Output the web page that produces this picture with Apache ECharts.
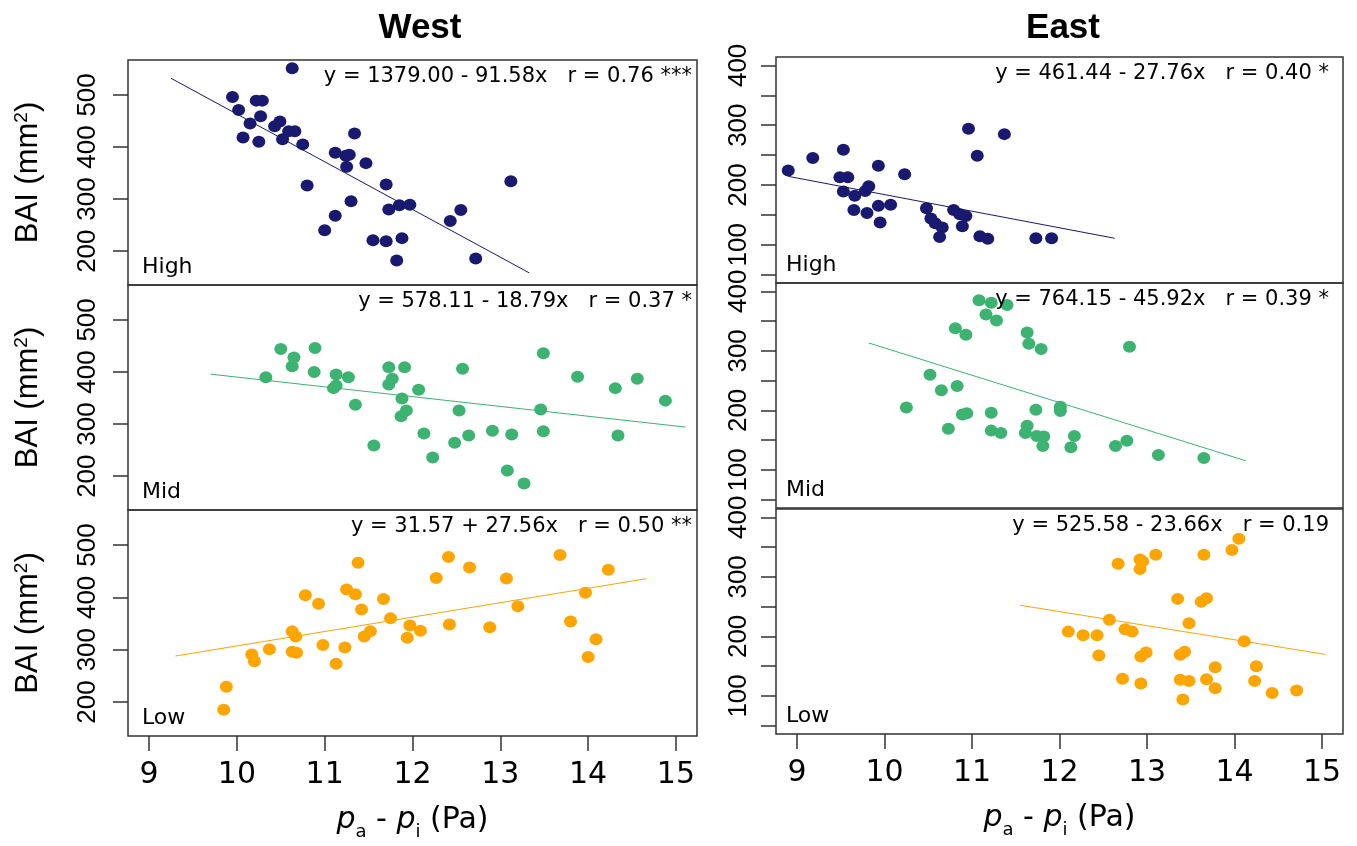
<!DOCTYPE html>
<html>
<head>
<meta charset="utf-8">
<title>BAI vs pa - pi</title>
<script src="https://cdn.jsdelivr.net/npm/echarts@6/dist/echarts.min.js"></script>
<style>
  html, body { margin: 0; padding: 0; background: #fff; }
  #chart { width: 1357px; height: 846px; }
</style>
</head>
<body>
<div id="chart"></div>
<script>
// points: [pa - pi, BAI]
var westHigh = [
  [10.63, 551], [9.95, 496], [10.02, 471], [10.22, 489], [10.29, 489], [10.27, 459], [10.15, 445],
  [10.07, 418], [10.25, 410], [10.43, 440], [10.49, 449], [10.52, 415], [10.59, 430], [10.66, 430],
  [10.75, 405], [11.34, 426], [11.12, 389], [11.24, 383], [11.28, 385], [11.25, 362], [11.47, 369],
  [10.80, 326], [11.30, 296], [11.12, 268], [11.00, 240], [11.70, 328], [11.73, 280], [11.85, 288],
  [11.97, 289], [11.55, 221], [11.70, 219], [11.88, 225], [11.82, 182], [12.43, 258], [12.55, 279],
  [12.72, 186], [13.12, 334]
];
var westMid = [
  [10.33, 390], [10.50, 444], [10.65, 428], [10.63, 411], [10.89, 446], [10.88, 400], [11.13, 395],
  [11.27, 390], [11.10, 369], [11.13, 374], [11.35, 337], [11.73, 409], [11.91, 409], [11.77, 387],
  [11.73, 376], [12.07, 366], [11.88, 349], [11.93, 326], [11.87, 315], [11.56, 259], [12.57, 406],
  [12.53, 326], [12.13, 282], [12.23, 236], [12.48, 264], [12.64, 278], [12.91, 287], [13.13, 280],
  [13.08, 211], [13.27, 186], [13.49, 436], [13.46, 328], [13.49, 286], [13.88, 391], [14.31, 369],
  [14.34, 278], [14.56, 387], [14.88, 345]
];
var westLow = [
  [9.85, 185], [9.88, 229], [10.17, 291], [10.20, 278], [10.37, 301], [10.63, 335], [10.67, 325],
  [10.63, 296], [10.68, 294], [10.78, 404], [10.93, 388], [10.98, 309], [11.13, 273], [11.23, 304],
  [11.38, 466], [11.25, 415], [11.35, 406], [11.42, 377], [11.52, 335], [11.45, 325], [11.67, 397],
  [11.75, 360], [11.97, 346], [11.94, 323], [12.09, 336], [12.27, 437], [12.41, 477], [12.42, 348],
  [12.65, 457], [12.88, 343], [13.07, 436], [13.20, 383], [13.68, 481], [13.80, 354], [13.97, 409],
  [14.09, 320], [14.00, 286], [14.23, 453]
];
var eastHigh = [
  [8.90, 224], [9.18, 245], [9.53, 259], [9.49, 213], [9.58, 213], [9.53, 189], [9.66, 182],
  [9.65, 158], [9.78, 190], [9.82, 198], [9.93, 232], [9.93, 165], [9.80, 153], [9.95, 137],
  [10.07, 167], [10.23, 218], [10.48, 161], [10.53, 144], [10.58, 136], [10.66, 129], [10.63, 113],
  [10.79, 158], [10.86, 151], [10.93, 148], [10.89, 131], [10.96, 294], [11.06, 249], [11.09, 114],
  [11.18, 110], [11.37, 285], [11.73, 111], [11.91, 111]
];
var eastMid = [
  [11.08, 385], [11.22, 381], [11.40, 377], [11.16, 361], [11.28, 351], [10.81, 338], [10.93, 327],
  [11.63, 331], [11.65, 312], [11.79, 303], [12.80, 307], [10.52, 260], [10.65, 234], [10.83, 241],
  [10.25, 205], [10.89, 193], [10.94, 195], [11.22, 196], [10.73, 169], [11.22, 166], [11.33, 162],
  [11.73, 201], [12.01, 206], [12.01, 199], [11.63, 174], [11.61, 162], [11.74, 157], [11.82, 156],
  [11.81, 140], [12.17, 157], [12.13, 138], [12.64, 140], [12.77, 149], [13.13, 125], [13.65, 120]
];
var eastLow = [
  [12.10, 208], [12.27, 202], [12.43, 202], [12.45, 168], [12.57, 228], [12.67, 322], [12.75, 212],
  [12.83, 208], [12.72, 129], [12.92, 329], [12.92, 313], [12.95, 326], [13.10, 337], [12.93, 166],
  [12.99, 173], [12.93, 121], [13.35, 263], [13.38, 169], [13.43, 174], [13.48, 222], [13.38, 127],
  [13.48, 125], [13.41, 94], [13.62, 258], [13.68, 264], [13.65, 337], [13.78, 148], [13.68, 128],
  [13.78, 113], [13.97, 345], [14.05, 364], [14.11, 192], [14.25, 150], [14.23, 125], [14.43, 105],
  [14.71, 109]
];

// regression lines and their labels, same order as the panels
var intercepts = [1379.00, 578.11, 31.57, 461.44, 764.15, 525.58];
var slopes = [-91.58, -18.79, 27.56, -27.76, -45.92, -23.66];
var lineFrom = [9.25, 9.70, 9.30, 8.90, 9.82, 11.55];
var lineTo = [13.33, 15.11, 14.66, 12.63, 14.13, 15.04];
var eqLabels = [
  'y = 1379.00 - 91.58x   r = 0.76 ***',
  'y = 578.11 - 18.79x   r = 0.37 *',
  'y = 31.57 + 27.56x   r = 0.50 **',
  'y = 461.44 - 27.76x   r = 0.40 *',
  'y = 764.15 - 45.92x   r = 0.39 *',
  'y = 525.58 - 23.66x   r = 0.19'
];

var regions = ['West', 'East'];
var levels = ['High', 'Mid', 'Low'];
var xTicks = [9, 10, 11, 12, 13, 14, 15];
var westYTicks = [200, 300, 400, 500];
var eastYTicks = [50, 100, 150, 200, 250, 300, 350, 400];
var eastYLabels = [100, 200, 300, 400];

var panels = [westHigh, westMid, westLow, eastHigh, eastMid, eastLow];
var colors = ['#191970', '#3cb371', '#ffa500'];

// layout (note: never name a global "top", it is window.top)
var colLeft = [128, 776];
var colWidth = [569, 567];
var rowTop = [[60, 285, 510], [57, 283, 509]];
var rowHeight = [[225, 225, 226], [226, 225, 225]];
var eqRight = [692, 1329];
var levelLeft = [142, 786];
var titleX = [420, 1063];

var grids = [], xAxes = [], yAxes = [], series = [], graphics = [];

for (var c = 0; c < 2; c++) {
  for (var r = 0; r < 3; r++) {
    var i = c * 3 + r;
    var pTop = rowTop[c][r], pHeight = rowHeight[c][r];
    var bottomRow = r === 2;

    grids.push({
      left: colLeft[c], top: pTop, width: colWidth[c], height: pHeight,
      show: true, borderColor: '#333', borderWidth: 1.5
    });

    xAxes.push({
      gridIndex: i, type: 'value', min: 8.76, max: 15.24,
      axisLine: { show: false },
      splitLine: { show: false },
      axisTick: {
        show: bottomRow, customValues: xTicks, length: 15,
        lineStyle: { color: '#333', width: 1.5 }
      },
      axisLabel: {
        show: bottomRow, customValues: xTicks, margin: 39, verticalAlign: 'middle',
        fontSize: 30, fontFamily: 'DejaVu Sans', color: '#000'
      },
      name: bottomRow ? '{it|p}{sub|a}{n| - }{it|p}{sub|i}{n| (Pa)}' : '',
      nameLocation: 'middle', nameGap: 84,
      nameTextStyle: {
        verticalAlign: 'middle',
        rich: {
          n: { fontSize: 30, fontFamily: 'DejaVu Sans', color: '#000', verticalAlign: 'middle' },
          it: { fontSize: 30, fontFamily: 'DejaVu Sans', fontStyle: 'italic', color: '#000', verticalAlign: 'middle' },
          sub: { fontSize: 18, fontFamily: 'DejaVu Sans', color: '#000', verticalAlign: 'bottom', padding: [24, 0, 0, 0] }
        }
      }
    });

    yAxes.push({
      gridIndex: i, type: 'value',
      min: c === 0 ? 135 : 36, max: c === 0 ? 567 : 414,
      axisLine: { show: false },
      splitLine: { show: false },
      axisTick: {
        customValues: c === 0 ? westYTicks : eastYTicks, length: 15,
        lineStyle: { color: '#333', width: 1.5 }
      },
      axisLabel: {
        customValues: c === 0 ? westYTicks : eastYLabels,
        rotate: 90, align: 'center', verticalAlign: 'middle',
        margin: c === 0 ? 40 : 37,
        fontSize: 26, fontFamily: 'Liberation Sans', color: '#000'
      },
      name: c === 0 ? '{a|BAI (mm}{s|2}{a|)}' : '',
      nameLocation: 'middle', nameRotate: 90, nameGap: 100,
      nameTextStyle: {
        verticalAlign: 'middle',
        rich: {
          a: { fontSize: 31, fontFamily: 'Liberation Sans', color: '#000' },
          s: { fontSize: 19, fontFamily: 'Liberation Sans', color: '#000', verticalAlign: 'top' }
        }
      }
    });

    series.push({
      type: 'scatter', xAxisIndex: i, yAxisIndex: i,
      data: panels[i], symbol: 'circle', symbolSize: [13, 12],
      itemStyle: { color: colors[r], opacity: 1 },
      emphasis: { disabled: true }, z: 2
    });

    series.push({
      type: 'line', xAxisIndex: i, yAxisIndex: i,
      data: [
        [lineFrom[i], intercepts[i] + slopes[i] * lineFrom[i]],
        [lineTo[i], intercepts[i] + slopes[i] * lineTo[i]]
      ],
      symbol: 'none', silent: true,
      lineStyle: { color: colors[r], width: 1 }, z: 3
    });

    graphics.push({
      type: 'text', x: eqRight[c], y: pTop + 17, z: 10,
      style: {
        text: eqLabels[i], fill: '#000', font: '21px "DejaVu Sans"',
        textAlign: 'right', align: 'right', textVerticalAlign: 'middle', verticalAlign: 'middle'
      }
    });
    graphics.push({
      type: 'text', x: levelLeft[c], y: pTop + pHeight - 18, z: 10,
      style: {
        text: levels[r], fill: '#000', font: '22px "DejaVu Sans"',
        textAlign: 'left', align: 'left', textVerticalAlign: 'middle', verticalAlign: 'middle'
      }
    });
  }
  graphics.push({
    type: 'text', x: titleX[c], y: 28, z: 10,
    style: {
      text: regions[c], fill: '#000', font: 'bold 35px "Liberation Sans"',
      textAlign: 'center', align: 'center', textVerticalAlign: 'middle', verticalAlign: 'middle'
    }
  });
}

var myChart = echarts.init(document.getElementById('chart'));
myChart.setOption({
  backgroundColor: '#fff',
  animation: false,
  grid: grids,
  xAxis: xAxes,
  yAxis: yAxes,
  series: series,
  graphic: graphics
});
</script>
</body>
</html>
